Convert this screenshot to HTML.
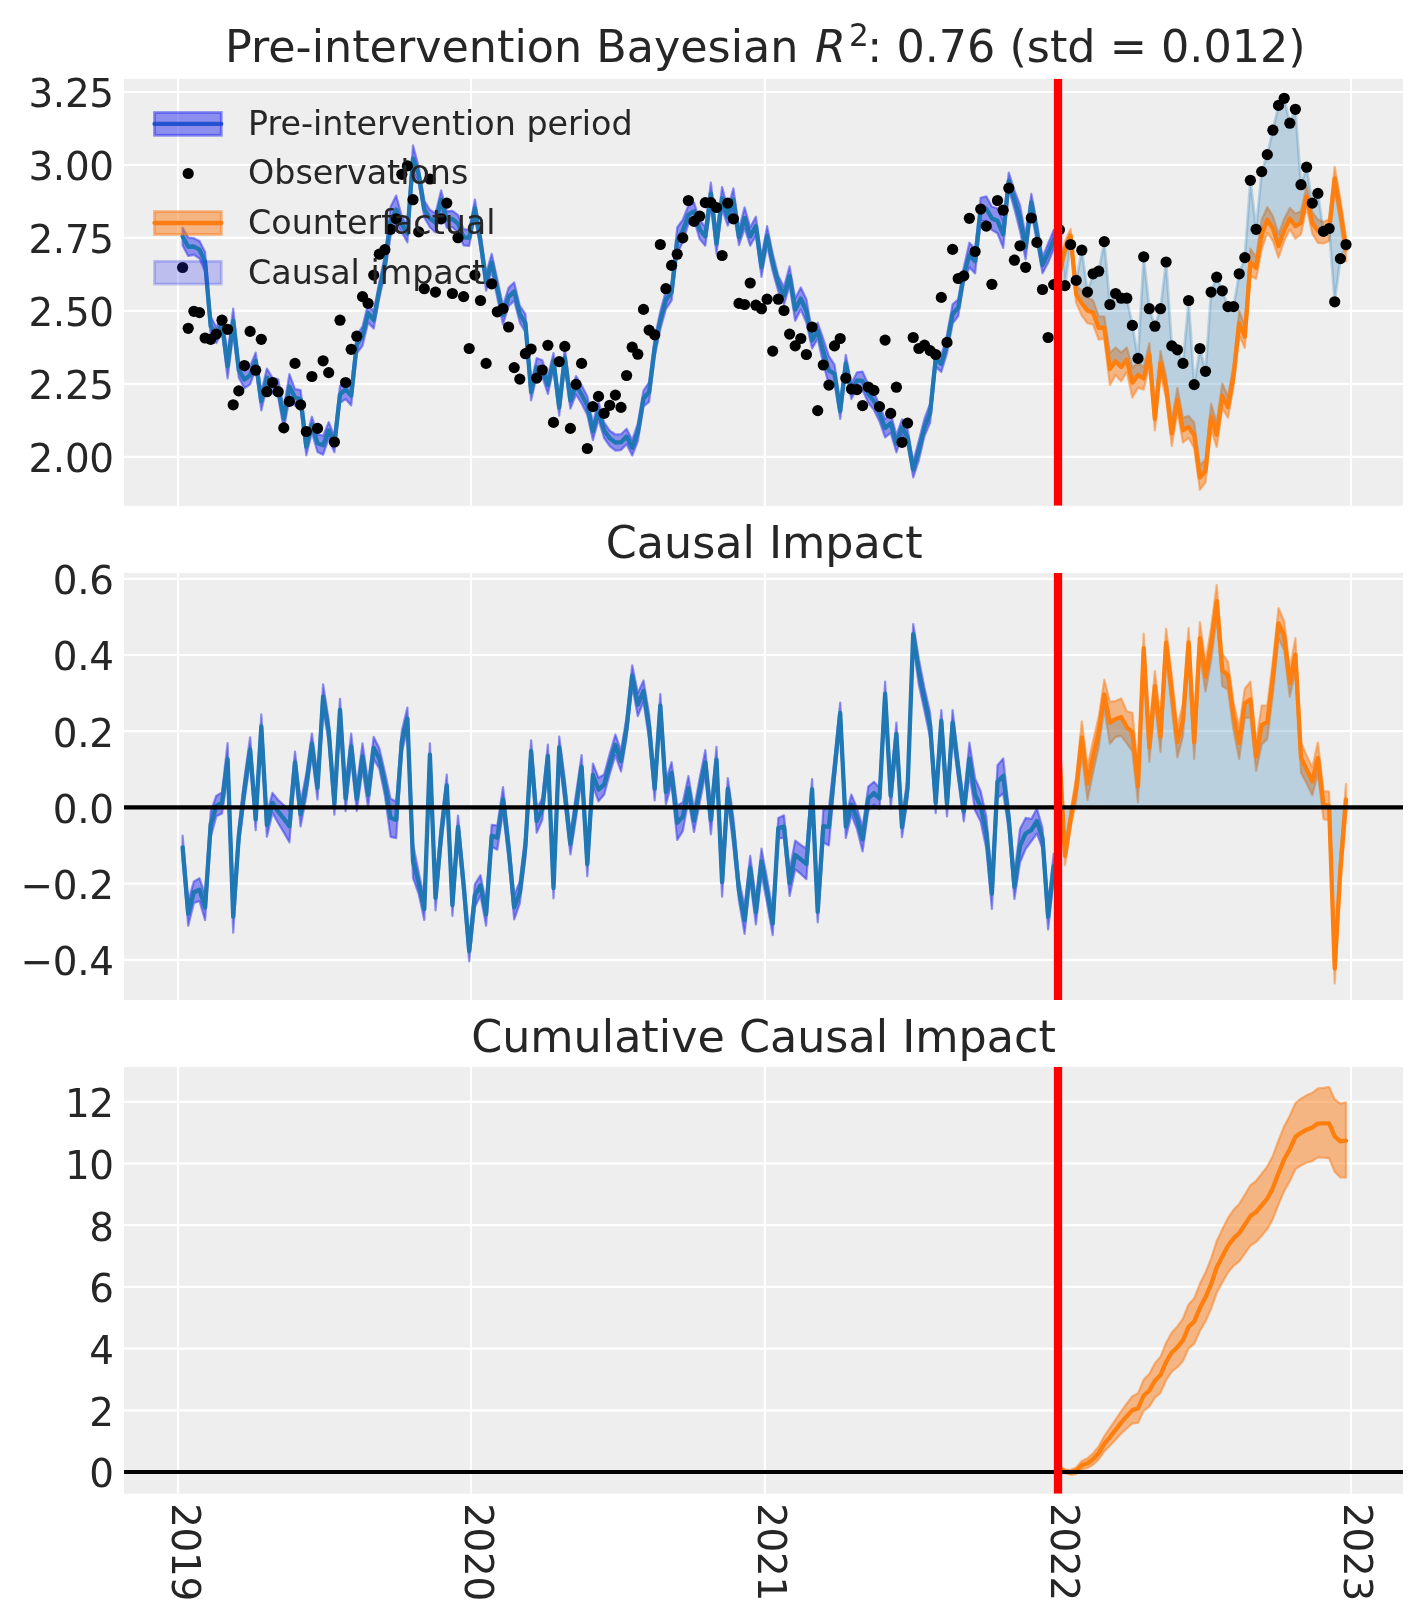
<!DOCTYPE html>
<html lang="en"><head><meta charset="utf-8"><title>Causal impact plot</title>
<style>html,body{margin:0;padding:0;background:#fff}svg{display:block;will-change:transform}</style></head>
<body>
<svg width="1423" height="1623" viewBox="0 0 1423 1623" font-family="'DejaVu Sans','Liberation Sans',sans-serif" fill="#262626">
<rect width="1423" height="1623" fill="#fff"/>
<defs>
<clipPath id="c1"><rect x="124.0" y="78.8" width="1279.0" height="427.0"/></clipPath>
<clipPath id="c2"><rect x="124.0" y="573.0" width="1279.0" height="426.9"/></clipPath>
<clipPath id="c3"><rect x="124.0" y="1067.0" width="1279.0" height="426.70000000000005"/></clipPath>
</defs>
<rect x="124.0" y="78.8" width="1279.0" height="427.0" fill="#eeeeee"/>
<g stroke="#fff" stroke-width="2.2" clip-path="url(#c1)">
<line x1="178.0" y1="78.8" x2="178.0" y2="505.8"/>
<line x1="471.0" y1="78.8" x2="471.0" y2="505.8"/>
<line x1="764.9" y1="78.8" x2="764.9" y2="505.8"/>
<line x1="1058.0" y1="78.8" x2="1058.0" y2="505.8"/>
<line x1="1351.0" y1="78.8" x2="1351.0" y2="505.8"/>
<line x1="124.0" y1="92.0" x2="1403.0" y2="92.0"/>
<line x1="124.0" y1="165.0" x2="1403.0" y2="165.0"/>
<line x1="124.0" y1="237.9" x2="1403.0" y2="237.9"/>
<line x1="124.0" y1="310.9" x2="1403.0" y2="310.9"/>
<line x1="124.0" y1="383.8" x2="1403.0" y2="383.8"/>
<line x1="124.0" y1="456.8" x2="1403.0" y2="456.8"/>
</g>
<g font-size="38.9" text-anchor="end" letter-spacing="-0.3">
<text x="113.8" y="107.4">3.25</text>
<text x="113.8" y="180.4">3.00</text>
<text x="113.8" y="253.3">2.75</text>
<text x="113.8" y="326.3">2.50</text>
<text x="113.8" y="399.2">2.25</text>
<text x="113.8" y="472.2">2.00</text>
</g>
<g clip-path="url(#c1)" stroke-linejoin="round" stroke-linecap="round">
<polygon points="182.6,227.6 188.2,237.5 193.9,238.2 199.5,241.0 205.1,252.1 210.7,316.6 216.3,327.3 222.0,315.8 227.6,353.8 233.2,308.5 238.8,362.4 244.4,371.0 250.1,366.2 255.7,352.6 261.3,392.1 266.9,368.6 272.5,377.8 278.2,379.4 283.8,408.0 289.4,374.2 295.0,389.1 300.6,390.0 306.3,438.1 311.9,416.7 317.5,434.3 323.1,435.8 328.7,422.1 334.4,436.0 340.0,385.9 345.6,379.6 351.2,385.7 356.8,335.0 362.5,326.4 368.1,303.7 373.7,311.6 379.3,282.3 384.9,255.3 390.6,206.7 396.2,195.6 401.8,216.2 407.4,225.2 413.0,145.4 418.7,166.7 424.3,200.8 429.9,209.9 435.5,213.3 441.1,190.4 446.8,211.3 452.4,210.8 458.0,215.0 463.6,229.2 469.2,229.8 474.9,199.5 480.5,233.4 486.1,273.2 491.7,253.9 497.3,279.3 503.0,305.8 508.6,287.7 514.2,282.4 519.8,305.7 525.4,314.0 531.1,383.6 536.7,358.1 542.3,360.3 547.9,376.6 553.5,353.0 559.2,399.4 564.8,347.7 570.4,392.4 576.0,376.1 581.6,385.3 587.3,396.3 592.9,422.7 598.5,401.8 604.1,422.5 609.7,430.6 615.4,434.5 621.0,434.2 626.6,428.7 632.2,439.9 637.8,423.6 643.5,390.5 649.1,382.2 654.7,338.5 660.3,311.4 665.9,290.7 671.6,284.1 677.2,227.5 682.8,219.7 688.4,205.4 694.0,202.5 699.7,220.0 705.3,227.1 710.9,182.5 716.5,234.0 722.1,187.0 727.8,208.8 733.4,188.4 739.0,229.0 744.6,207.4 750.2,227.2 755.9,216.7 761.5,257.0 767.1,226.1 772.7,253.6 778.3,275.8 784.0,286.9 789.6,266.4 795.2,298.6 800.8,287.5 806.4,299.3 812.1,332.2 817.7,322.8 823.3,338.9 828.9,356.1 834.5,364.7 840.2,403.1 845.8,354.9 851.4,383.6 857.0,372.3 862.6,371.6 868.3,384.5 873.9,392.5 879.5,405.0 885.1,419.1 890.7,413.4 896.4,435.1 902.0,419.4 907.6,429.7 913.2,461.8 918.9,440.4 924.5,418.4 930.1,403.8 935.7,350.6 941.3,355.6 947.0,334.8 952.6,304.3 958.2,299.4 963.8,267.2 969.4,242.7 975.1,249.0 980.7,197.7 986.3,196.4 991.9,206.7 997.5,208.2 1003.2,220.9 1008.8,172.5 1014.4,190.3 1020.0,205.2 1025.6,235.4 1031.3,193.8 1036.9,223.0 1042.5,257.3 1048.1,243.5 1053.7,230.1 1053.7,249.0 1048.1,262.8 1042.5,273.2 1036.9,242.2 1031.3,210.9 1025.6,259.3 1020.0,230.9 1014.4,208.9 1008.8,189.4 1003.2,247.8 997.5,233.3 991.9,230.1 986.3,220.9 980.7,221.1 975.1,273.5 969.4,267.2 963.8,282.7 958.2,316.2 952.6,323.7 947.0,353.2 941.3,372.0 935.7,366.6 930.1,422.9 924.5,436.1 918.9,460.1 913.2,477.4 907.6,445.1 902.0,434.9 896.4,452.3 890.7,433.0 885.1,437.3 879.5,421.5 873.9,409.9 868.3,402.7 862.6,390.2 857.0,388.5 851.4,399.0 845.8,372.1 840.2,418.9 834.5,382.9 828.9,384.7 823.3,364.0 817.7,338.8 812.1,348.4 806.4,322.7 800.8,309.6 795.2,320.8 789.6,285.9 784.0,304.4 778.3,291.4 772.7,271.3 767.1,245.2 761.5,276.8 755.9,235.5 750.2,245.7 744.6,228.4 739.0,245.1 733.4,210.6 727.8,225.7 722.1,209.2 716.5,253.5 710.9,204.7 705.3,245.7 699.7,239.1 694.0,219.9 688.4,224.0 682.8,241.9 677.2,253.8 671.6,300.5 665.9,309.2 660.3,329.1 654.7,356.9 649.1,401.8 643.5,406.5 637.8,441.4 632.2,455.6 626.6,444.3 621.0,450.1 615.4,450.6 609.7,446.1 604.1,438.0 598.5,419.7 592.9,440.1 587.3,414.9 581.6,403.5 576.0,394.5 570.4,408.7 564.8,367.4 559.2,415.7 553.5,368.5 547.9,393.9 542.3,377.0 536.7,376.0 531.1,400.3 525.4,332.3 519.8,322.6 514.2,300.8 508.6,306.1 503.0,324.4 497.3,297.8 491.7,270.8 486.1,290.6 480.5,249.0 474.9,217.1 469.2,245.9 463.6,245.4 458.0,232.3 452.4,227.2 446.8,227.8 441.1,208.4 435.5,232.5 429.9,227.2 424.3,217.4 418.7,183.1 413.0,171.7 407.4,242.3 401.8,232.4 396.2,223.6 390.6,235.9 384.9,273.5 379.3,297.9 373.7,328.6 368.1,322.8 362.5,345.8 356.8,353.3 351.2,405.4 345.6,399.1 340.0,402.9 334.4,452.2 328.7,438.7 323.1,454.7 317.5,452.0 311.9,432.6 306.3,455.3 300.6,408.4 295.0,405.6 289.4,398.7 283.8,429.0 278.2,397.2 272.5,393.1 266.9,386.6 261.3,410.4 255.7,369.1 250.1,384.4 244.4,388.3 238.8,377.7 233.2,333.1 227.6,378.3 222.0,331.9 216.3,343.1 210.7,335.9 205.1,271.5 199.5,258.5 193.9,254.8 188.2,256.0 182.6,245.4" fill="#2a2eec" fill-opacity="0.5" stroke="#2a2eec" stroke-opacity="0.5" stroke-width="2.2"/>
<polygon points="1059.4,267.1 1065.0,241.5 1070.6,229.0 1076.2,285.6 1081.8,290.7 1087.5,297.8 1093.1,300.3 1098.7,316.3 1104.3,316.5 1109.9,353.0 1115.6,347.5 1121.2,352.6 1126.8,347.5 1132.4,367.8 1138.0,362.6 1143.7,367.2 1149.3,343.2 1154.9,407.3 1160.5,351.1 1166.1,376.4 1171.8,421.0 1177.4,388.0 1183.0,417.9 1188.6,415.9 1194.2,422.5 1199.9,465.3 1205.5,459.7 1211.1,403.9 1216.7,422.7 1222.3,383.5 1228.0,396.5 1233.6,364.8 1239.2,311.0 1244.8,325.6 1250.4,248.7 1256.1,257.1 1261.7,219.8 1267.3,207.1 1272.9,216.0 1278.5,234.4 1284.2,218.9 1289.8,207.9 1295.4,213.5 1301.0,211.3 1306.6,185.7 1312.3,212.3 1317.9,219.4 1323.5,222.1 1329.1,219.0 1334.7,166.8 1340.4,199.6 1346.0,237.5 1346.0,261.3 1340.4,222.9 1334.7,189.9 1329.1,240.9 1323.5,243.5 1317.9,242.9 1312.3,233.7 1306.6,207.0 1301.0,234.3 1295.4,238.7 1289.8,229.2 1284.2,241.1 1278.5,257.7 1272.9,240.9 1267.3,232.8 1261.7,249.6 1256.1,278.8 1250.4,276.1 1244.8,348.0 1239.2,335.4 1233.6,386.0 1228.0,417.8 1222.3,408.4 1216.7,447.0 1211.1,429.3 1205.5,482.4 1199.9,489.8 1194.2,448.0 1188.6,438.0 1183.0,442.5 1177.4,411.5 1171.8,445.9 1166.1,397.9 1160.5,374.6 1154.9,430.4 1149.3,365.5 1143.7,389.6 1138.0,387.6 1132.4,397.5 1126.8,372.0 1121.2,381.2 1115.6,375.0 1109.9,385.1 1104.3,338.8 1098.7,339.6 1093.1,324.6 1087.5,323.3 1081.8,315.6 1076.2,303.1 1070.6,241.8 1065.0,255.5 1059.4,278.8" fill="#fa7c17" fill-opacity="0.5" stroke="#fa7c17" stroke-opacity="0.5" stroke-width="2.2"/>
<polygon points="1059.4,229.8 1065.0,285.6 1070.6,244.5 1076.2,280.4 1081.8,250.2 1087.5,292.1 1093.1,273.8 1098.7,271.2 1104.3,241.6 1109.9,304.5 1115.6,293.5 1121.2,298.2 1126.8,298.2 1132.4,325.4 1138.0,358.4 1143.7,256.8 1149.3,308.7 1154.9,326.2 1160.5,308.7 1166.1,262.0 1171.8,345.9 1177.4,349.8 1183.0,363.4 1188.6,300.5 1194.2,384.6 1199.9,348.5 1205.5,371.3 1211.1,292.1 1216.7,277.2 1222.3,290.8 1228.0,306.6 1233.6,306.6 1239.2,273.8 1244.8,257.6 1250.4,180.3 1256.1,229.3 1261.7,171.6 1267.3,154.6 1272.9,130.2 1278.5,105.4 1284.2,98.3 1289.8,123.2 1295.4,109.3 1301.0,184.7 1306.6,167.2 1312.3,203.1 1317.9,193.4 1323.5,231.4 1329.1,228.5 1334.7,301.8 1340.4,258.6 1346.0,244.5 1346.0,249.4 1340.4,211.3 1334.7,178.4 1329.1,229.9 1323.5,232.8 1317.9,231.1 1312.3,223.0 1306.6,196.4 1301.0,222.8 1295.4,226.1 1289.8,218.6 1284.2,230.0 1278.5,246.1 1272.9,228.4 1267.3,219.9 1261.7,234.7 1256.1,267.9 1250.4,262.4 1244.8,336.8 1239.2,323.2 1233.6,375.4 1228.0,407.2 1222.3,395.9 1216.7,434.8 1211.1,416.6 1205.5,471.0 1199.9,477.5 1194.2,435.3 1188.6,427.0 1183.0,430.2 1177.4,399.8 1171.8,433.5 1166.1,387.2 1160.5,362.8 1154.9,418.8 1149.3,354.4 1143.7,378.4 1138.0,375.1 1132.4,382.6 1126.8,359.7 1121.2,366.9 1115.6,361.3 1109.9,369.0 1104.3,327.7 1098.7,327.9 1093.1,312.5 1087.5,310.6 1081.8,303.2 1076.2,294.4 1070.6,235.4 1065.0,248.5 1059.4,272.9" fill="#1f77b4" fill-opacity="0.25" stroke="#1f77b4" stroke-opacity="0.25" stroke-width="2.8"/>
<polyline points="182.6,236.5 188.2,246.8 193.9,246.5 199.5,249.7 205.1,261.8 210.7,326.2 216.3,335.2 222.0,323.9 227.6,366.1 233.2,320.8 238.8,370.1 244.4,379.6 250.1,375.3 255.7,360.8 261.3,401.2 266.9,377.6 272.5,385.5 278.2,388.3 283.8,418.5 289.4,386.5 295.0,397.4 300.6,399.2 306.3,446.7 311.9,424.6 317.5,443.2 323.1,445.3 328.7,430.4 334.4,444.1 340.0,394.4 345.6,389.4 351.2,395.6 356.8,344.2 362.5,336.1 368.1,313.2 373.7,320.1 379.3,290.1 384.9,264.4 390.6,221.3 396.2,209.6 401.8,224.3 407.4,233.7 413.0,158.5 418.7,174.9 424.3,209.1 429.9,218.5 435.5,222.9 441.1,199.4 446.8,219.6 452.4,219.0 458.0,223.6 463.6,237.3 469.2,237.8 474.9,208.3 480.5,241.2 486.1,281.9 491.7,262.4 497.3,288.5 503.0,315.1 508.6,296.9 514.2,291.6 519.8,314.1 525.4,323.2 531.1,392.0 536.7,367.0 542.3,368.6 547.9,385.2 553.5,360.7 559.2,407.6 564.8,357.6 570.4,400.5 576.0,385.3 581.6,394.4 587.3,405.6 592.9,431.4 598.5,410.7 604.1,430.2 609.7,438.3 615.4,442.5 621.0,442.2 626.6,436.5 632.2,447.8 637.8,432.5 643.5,398.5 649.1,392.0 654.7,347.7 660.3,320.2 665.9,299.9 671.6,292.3 677.2,240.6 682.8,230.8 688.4,214.7 694.0,211.2 699.7,229.5 705.3,236.4 710.9,193.6 716.5,243.7 722.1,198.1 727.8,217.3 733.4,199.5 739.0,237.1 744.6,217.9 750.2,236.4 755.9,226.1 761.5,266.9 767.1,235.6 772.7,262.4 778.3,283.6 784.0,295.6 789.6,276.1 795.2,309.7 800.8,298.6 806.4,311.0 812.1,340.3 817.7,330.8 823.3,351.4 828.9,370.4 834.5,373.8 840.2,411.0 845.8,363.5 851.4,391.3 857.0,380.4 862.6,380.9 868.3,393.6 873.9,401.2 879.5,413.3 885.1,428.2 890.7,423.2 896.4,443.7 902.0,427.2 907.6,437.4 913.2,469.6 918.9,450.2 924.5,427.3 930.1,413.3 935.7,358.6 941.3,363.8 947.0,344.0 952.6,314.0 958.2,307.8 963.8,275.0 969.4,255.0 975.1,261.2 980.7,209.4 986.3,208.7 991.9,218.4 997.5,220.8 1003.2,234.3 1008.8,180.9 1014.4,199.6 1020.0,218.1 1025.6,247.4 1031.3,202.3 1036.9,232.6 1042.5,265.2 1048.1,253.2 1053.7,239.6" fill="none" stroke="#1f77b4" stroke-width="4.3"/>
<g fill="#000" stroke="none">
<circle cx="182.6" cy="267.5" r="5.6"/>
<circle cx="188.2" cy="328.3" r="5.6"/>
<circle cx="193.9" cy="311.3" r="5.6"/>
<circle cx="199.5" cy="312.6" r="5.6"/>
<circle cx="205.1" cy="338.0" r="5.6"/>
<circle cx="210.7" cy="339.3" r="5.6"/>
<circle cx="216.3" cy="334.1" r="5.6"/>
<circle cx="222.0" cy="320.2" r="5.6"/>
<circle cx="227.6" cy="329.3" r="5.6"/>
<circle cx="233.2" cy="404.8" r="5.6"/>
<circle cx="238.8" cy="390.9" r="5.6"/>
<circle cx="244.4" cy="365.5" r="5.6"/>
<circle cx="250.1" cy="331.4" r="5.6"/>
<circle cx="255.7" cy="370.2" r="5.6"/>
<circle cx="261.3" cy="339.3" r="5.6"/>
<circle cx="266.9" cy="391.7" r="5.6"/>
<circle cx="272.5" cy="382.5" r="5.6"/>
<circle cx="278.2" cy="391.7" r="5.6"/>
<circle cx="283.8" cy="427.9" r="5.6"/>
<circle cx="289.4" cy="401.4" r="5.6"/>
<circle cx="295.0" cy="363.4" r="5.6"/>
<circle cx="300.6" cy="404.8" r="5.6"/>
<circle cx="306.3" cy="431.5" r="5.6"/>
<circle cx="311.9" cy="376.5" r="5.6"/>
<circle cx="317.5" cy="428.4" r="5.6"/>
<circle cx="323.1" cy="360.8" r="5.6"/>
<circle cx="328.7" cy="372.6" r="5.6"/>
<circle cx="334.4" cy="442.0" r="5.6"/>
<circle cx="340.0" cy="320.2" r="5.6"/>
<circle cx="345.6" cy="382.5" r="5.6"/>
<circle cx="351.2" cy="349.3" r="5.6"/>
<circle cx="356.8" cy="336.2" r="5.6"/>
<circle cx="362.5" cy="296.6" r="5.6"/>
<circle cx="368.1" cy="303.4" r="5.6"/>
<circle cx="373.7" cy="275.1" r="5.6"/>
<circle cx="379.3" cy="254.2" r="5.6"/>
<circle cx="384.9" cy="249.7" r="5.6"/>
<circle cx="390.6" cy="229.3" r="5.6"/>
<circle cx="396.2" cy="218.8" r="5.6"/>
<circle cx="401.8" cy="174.3" r="5.6"/>
<circle cx="407.4" cy="165.9" r="5.6"/>
<circle cx="413.0" cy="199.7" r="5.6"/>
<circle cx="418.7" cy="231.9" r="5.6"/>
<circle cx="424.3" cy="288.7" r="5.6"/>
<circle cx="429.9" cy="179.0" r="5.6"/>
<circle cx="435.5" cy="292.1" r="5.6"/>
<circle cx="441.1" cy="218.8" r="5.6"/>
<circle cx="446.8" cy="203.1" r="5.6"/>
<circle cx="452.4" cy="293.5" r="5.6"/>
<circle cx="458.0" cy="237.7" r="5.6"/>
<circle cx="463.6" cy="296.6" r="5.6"/>
<circle cx="469.2" cy="348.5" r="5.6"/>
<circle cx="474.9" cy="275.1" r="5.6"/>
<circle cx="480.5" cy="300.5" r="5.6"/>
<circle cx="486.1" cy="363.4" r="5.6"/>
<circle cx="491.7" cy="283.8" r="5.6"/>
<circle cx="497.3" cy="311.8" r="5.6"/>
<circle cx="503.0" cy="308.7" r="5.6"/>
<circle cx="508.6" cy="327.0" r="5.6"/>
<circle cx="514.2" cy="367.6" r="5.6"/>
<circle cx="519.8" cy="379.1" r="5.6"/>
<circle cx="525.4" cy="353.7" r="5.6"/>
<circle cx="531.1" cy="349.0" r="5.6"/>
<circle cx="536.7" cy="378.1" r="5.6"/>
<circle cx="542.3" cy="370.0" r="5.6"/>
<circle cx="547.9" cy="345.3" r="5.6"/>
<circle cx="553.5" cy="422.4" r="5.6"/>
<circle cx="559.2" cy="361.6" r="5.6"/>
<circle cx="564.8" cy="346.4" r="5.6"/>
<circle cx="570.4" cy="428.4" r="5.6"/>
<circle cx="576.0" cy="384.4" r="5.6"/>
<circle cx="581.6" cy="363.4" r="5.6"/>
<circle cx="587.3" cy="448.5" r="5.6"/>
<circle cx="592.9" cy="406.6" r="5.6"/>
<circle cx="598.5" cy="396.4" r="5.6"/>
<circle cx="604.1" cy="413.4" r="5.6"/>
<circle cx="609.7" cy="405.3" r="5.6"/>
<circle cx="615.4" cy="395.1" r="5.6"/>
<circle cx="621.0" cy="407.4" r="5.6"/>
<circle cx="626.6" cy="375.5" r="5.6"/>
<circle cx="632.2" cy="347.2" r="5.6"/>
<circle cx="637.8" cy="354.2" r="5.6"/>
<circle cx="643.5" cy="309.4" r="5.6"/>
<circle cx="649.1" cy="330.1" r="5.6"/>
<circle cx="654.7" cy="334.9" r="5.6"/>
<circle cx="660.3" cy="244.5" r="5.6"/>
<circle cx="665.9" cy="288.7" r="5.6"/>
<circle cx="671.6" cy="265.4" r="5.6"/>
<circle cx="677.2" cy="254.2" r="5.6"/>
<circle cx="682.8" cy="237.9" r="5.6"/>
<circle cx="688.4" cy="200.5" r="5.6"/>
<circle cx="694.0" cy="221.4" r="5.6"/>
<circle cx="699.7" cy="216.2" r="5.6"/>
<circle cx="705.3" cy="202.6" r="5.6"/>
<circle cx="710.9" cy="202.6" r="5.6"/>
<circle cx="716.5" cy="207.5" r="5.6"/>
<circle cx="722.1" cy="255.5" r="5.6"/>
<circle cx="727.8" cy="203.1" r="5.6"/>
<circle cx="733.4" cy="218.8" r="5.6"/>
<circle cx="739.0" cy="303.4" r="5.6"/>
<circle cx="744.6" cy="304.5" r="5.6"/>
<circle cx="750.2" cy="283.0" r="5.6"/>
<circle cx="755.9" cy="305.2" r="5.6"/>
<circle cx="761.5" cy="308.7" r="5.6"/>
<circle cx="767.1" cy="299.2" r="5.6"/>
<circle cx="772.7" cy="351.1" r="5.6"/>
<circle cx="778.3" cy="299.2" r="5.6"/>
<circle cx="784.0" cy="310.5" r="5.6"/>
<circle cx="789.6" cy="334.1" r="5.6"/>
<circle cx="795.2" cy="345.9" r="5.6"/>
<circle cx="800.8" cy="338.5" r="5.6"/>
<circle cx="806.4" cy="354.5" r="5.6"/>
<circle cx="812.1" cy="327.0" r="5.6"/>
<circle cx="817.7" cy="410.6" r="5.6"/>
<circle cx="823.3" cy="365.0" r="5.6"/>
<circle cx="828.9" cy="385.1" r="5.6"/>
<circle cx="834.5" cy="345.9" r="5.6"/>
<circle cx="840.2" cy="338.5" r="5.6"/>
<circle cx="845.8" cy="378.1" r="5.6"/>
<circle cx="851.4" cy="389.1" r="5.6"/>
<circle cx="857.0" cy="389.6" r="5.6"/>
<circle cx="862.6" cy="405.6" r="5.6"/>
<circle cx="868.3" cy="387.0" r="5.6"/>
<circle cx="873.9" cy="390.4" r="5.6"/>
<circle cx="879.5" cy="406.6" r="5.6"/>
<circle cx="885.1" cy="340.1" r="5.6"/>
<circle cx="890.7" cy="413.4" r="5.6"/>
<circle cx="896.4" cy="387.2" r="5.6"/>
<circle cx="902.0" cy="442.3" r="5.6"/>
<circle cx="907.6" cy="423.1" r="5.6"/>
<circle cx="913.2" cy="337.5" r="5.6"/>
<circle cx="918.9" cy="348.5" r="5.6"/>
<circle cx="924.5" cy="345.1" r="5.6"/>
<circle cx="930.1" cy="350.6" r="5.6"/>
<circle cx="935.7" cy="354.5" r="5.6"/>
<circle cx="941.3" cy="297.4" r="5.6"/>
<circle cx="947.0" cy="342.4" r="5.6"/>
<circle cx="952.6" cy="249.4" r="5.6"/>
<circle cx="958.2" cy="278.5" r="5.6"/>
<circle cx="963.8" cy="275.9" r="5.6"/>
<circle cx="969.4" cy="218.3" r="5.6"/>
<circle cx="975.1" cy="251.5" r="5.6"/>
<circle cx="980.7" cy="209.1" r="5.6"/>
<circle cx="986.3" cy="226.1" r="5.6"/>
<circle cx="991.9" cy="284.3" r="5.6"/>
<circle cx="997.5" cy="200.5" r="5.6"/>
<circle cx="1003.2" cy="210.2" r="5.6"/>
<circle cx="1008.8" cy="188.1" r="5.6"/>
<circle cx="1014.4" cy="260.2" r="5.6"/>
<circle cx="1020.0" cy="245.8" r="5.6"/>
<circle cx="1025.6" cy="267.3" r="5.6"/>
<circle cx="1031.3" cy="218.0" r="5.6"/>
<circle cx="1036.9" cy="242.4" r="5.6"/>
<circle cx="1042.5" cy="289.5" r="5.6"/>
<circle cx="1048.1" cy="337.5" r="5.6"/>
<circle cx="1053.7" cy="284.6" r="5.6"/>
</g>
<polyline points="1059.4,272.9 1065.0,248.5 1070.6,235.4 1076.2,294.4 1081.8,303.2 1087.5,310.6 1093.1,312.5 1098.7,327.9 1104.3,327.7 1109.9,369.0 1115.6,361.3 1121.2,366.9 1126.8,359.7 1132.4,382.6 1138.0,375.1 1143.7,378.4 1149.3,354.4 1154.9,418.8 1160.5,362.8 1166.1,387.2 1171.8,433.5 1177.4,399.8 1183.0,430.2 1188.6,427.0 1194.2,435.3 1199.9,477.5 1205.5,471.0 1211.1,416.6 1216.7,434.8 1222.3,395.9 1228.0,407.2 1233.6,375.4 1239.2,323.2 1244.8,336.8 1250.4,262.4 1256.1,267.9 1261.7,234.7 1267.3,219.9 1272.9,228.4 1278.5,246.1 1284.2,230.0 1289.8,218.6 1295.4,226.1 1301.0,222.8 1306.6,196.4 1312.3,223.0 1317.9,231.1 1323.5,232.8 1329.1,229.9 1334.7,178.4 1340.4,211.3 1346.0,249.4" fill="none" stroke="#ff7f0e" stroke-width="4.3"/>
<g fill="#000" stroke="none">
<circle cx="1059.4" cy="229.8" r="5.6"/>
<circle cx="1065.0" cy="285.6" r="5.6"/>
<circle cx="1070.6" cy="244.5" r="5.6"/>
<circle cx="1076.2" cy="280.4" r="5.6"/>
<circle cx="1081.8" cy="250.2" r="5.6"/>
<circle cx="1087.5" cy="292.1" r="5.6"/>
<circle cx="1093.1" cy="273.8" r="5.6"/>
<circle cx="1098.7" cy="271.2" r="5.6"/>
<circle cx="1104.3" cy="241.6" r="5.6"/>
<circle cx="1109.9" cy="304.5" r="5.6"/>
<circle cx="1115.6" cy="293.5" r="5.6"/>
<circle cx="1121.2" cy="298.2" r="5.6"/>
<circle cx="1126.8" cy="298.2" r="5.6"/>
<circle cx="1132.4" cy="325.4" r="5.6"/>
<circle cx="1138.0" cy="358.4" r="5.6"/>
<circle cx="1143.7" cy="256.8" r="5.6"/>
<circle cx="1149.3" cy="308.7" r="5.6"/>
<circle cx="1154.9" cy="326.2" r="5.6"/>
<circle cx="1160.5" cy="308.7" r="5.6"/>
<circle cx="1166.1" cy="262.0" r="5.6"/>
<circle cx="1171.8" cy="345.9" r="5.6"/>
<circle cx="1177.4" cy="349.8" r="5.6"/>
<circle cx="1183.0" cy="363.4" r="5.6"/>
<circle cx="1188.6" cy="300.5" r="5.6"/>
<circle cx="1194.2" cy="384.6" r="5.6"/>
<circle cx="1199.9" cy="348.5" r="5.6"/>
<circle cx="1205.5" cy="371.3" r="5.6"/>
<circle cx="1211.1" cy="292.1" r="5.6"/>
<circle cx="1216.7" cy="277.2" r="5.6"/>
<circle cx="1222.3" cy="290.8" r="5.6"/>
<circle cx="1228.0" cy="306.6" r="5.6"/>
<circle cx="1233.6" cy="306.6" r="5.6"/>
<circle cx="1239.2" cy="273.8" r="5.6"/>
<circle cx="1244.8" cy="257.6" r="5.6"/>
<circle cx="1250.4" cy="180.3" r="5.6"/>
<circle cx="1256.1" cy="229.3" r="5.6"/>
<circle cx="1261.7" cy="171.6" r="5.6"/>
<circle cx="1267.3" cy="154.6" r="5.6"/>
<circle cx="1272.9" cy="130.2" r="5.6"/>
<circle cx="1278.5" cy="105.4" r="5.6"/>
<circle cx="1284.2" cy="98.3" r="5.6"/>
<circle cx="1289.8" cy="123.2" r="5.6"/>
<circle cx="1295.4" cy="109.3" r="5.6"/>
<circle cx="1301.0" cy="184.7" r="5.6"/>
<circle cx="1306.6" cy="167.2" r="5.6"/>
<circle cx="1312.3" cy="203.1" r="5.6"/>
<circle cx="1317.9" cy="193.4" r="5.6"/>
<circle cx="1323.5" cy="231.4" r="5.6"/>
<circle cx="1329.1" cy="228.5" r="5.6"/>
<circle cx="1334.7" cy="301.8" r="5.6"/>
<circle cx="1340.4" cy="258.6" r="5.6"/>
<circle cx="1346.0" cy="244.5" r="5.6"/>
</g>
<line x1="1058.0" y1="78.8" x2="1058.0" y2="505.8" stroke="#ff0000" stroke-width="8.3" stroke-linecap="butt"/>
</g>
<g id="legend">
<line x1="154.5" y1="123.9" x2="221.3" y2="123.9" stroke="#1f77b4" stroke-width="4.3" stroke-linecap="round"/>
<rect x="154.5" y="112.5" width="66.8" height="22.8" fill="#2a2eec" fill-opacity="0.5" stroke="#2a2eec" stroke-opacity="0.5" stroke-width="2.78"/>
<circle cx="188.2" cy="173.5" r="5.6" fill="#000"/>
<line x1="154.5" y1="223.0" x2="221.3" y2="223.0" stroke="#ff7f0e" stroke-width="4.3" stroke-linecap="round"/>
<rect x="154.5" y="211.6" width="66.8" height="22.8" fill="#fa7c17" fill-opacity="0.5" stroke="#fa7c17" stroke-opacity="0.5" stroke-width="2.78"/>
<rect x="154.5" y="261.3" width="66.8" height="22.8" fill="#2a2eec" fill-opacity="0.25" stroke="#2a2eec" stroke-opacity="0.25" stroke-width="2.78"/>
<g font-size="33.33">
<text x="248.0" y="134.7">Pre-intervention period</text>
<text x="248.0" y="184.3">Observations</text>
<text x="248.0" y="233.8">Counterfactual</text>
<text x="248.0" y="283.5">Causal impact</text>
</g></g>
<rect x="124.0" y="573.0" width="1279.0" height="426.9" fill="#eeeeee"/>
<g stroke="#fff" stroke-width="2.2" clip-path="url(#c2)">
<line x1="178.0" y1="573.0" x2="178.0" y2="999.9"/>
<line x1="471.0" y1="573.0" x2="471.0" y2="999.9"/>
<line x1="764.9" y1="573.0" x2="764.9" y2="999.9"/>
<line x1="1058.0" y1="573.0" x2="1058.0" y2="999.9"/>
<line x1="1351.0" y1="573.0" x2="1351.0" y2="999.9"/>
<line x1="124.0" y1="578.8" x2="1403.0" y2="578.8"/>
<line x1="124.0" y1="655.0" x2="1403.0" y2="655.0"/>
<line x1="124.0" y1="731.2" x2="1403.0" y2="731.2"/>
<line x1="124.0" y1="807.4" x2="1403.0" y2="807.4"/>
<line x1="124.0" y1="883.6" x2="1403.0" y2="883.6"/>
<line x1="124.0" y1="959.8" x2="1403.0" y2="959.8"/>
</g>
<g font-size="38.9" text-anchor="end" letter-spacing="-0.3">
<text x="113.8" y="594.2">0.6</text>
<text x="113.8" y="670.4">0.4</text>
<text x="113.8" y="746.6">0.2</text>
<text x="113.8" y="822.8">0.0</text>
<text x="113.8" y="899.0">−0.2</text>
<text x="113.8" y="975.2">−0.4</text>
</g>
<g clip-path="url(#c2)" stroke-linejoin="round" stroke-linecap="round">
<polygon points="182.6,835.7 188.2,901.6 193.9,881.4 199.5,878.2 205.1,894.9 210.7,811.8 216.3,795.7 222.0,792.5 227.6,743.2 233.2,900.6 238.8,826.1 244.4,778.4 250.1,737.4 255.7,808.7 261.3,714.4 266.9,813.4 272.5,792.9 278.2,800.0 283.8,805.0 289.4,810.3 295.0,751.6 300.6,802.3 306.3,773.8 311.9,733.5 317.5,776.4 323.1,684.3 328.7,720.2 334.4,793.5 340.0,698.8 345.6,785.6 351.2,733.5 356.8,786.9 362.5,743.4 368.1,782.6 373.7,736.9 379.3,748.2 384.9,772.1 390.6,798.8 396.2,801.6 401.8,730.7 407.4,707.5 413.0,843.9 418.7,872.5 424.3,898.3 429.9,743.4 435.5,885.3 441.1,823.4 446.8,774.7 452.4,894.3 458.0,815.7 463.6,874.2 469.2,940.4 474.9,884.0 480.5,875.2 486.1,902.9 491.7,824.8 497.3,825.6 503.0,787.1 508.6,835.9 514.2,895.4 519.8,881.3 525.4,834.4 531.1,740.3 536.7,809.5 542.3,798.0 547.9,744.6 553.5,878.1 559.2,736.6 564.8,779.4 570.4,833.3 576.0,794.1 581.6,755.0 587.3,852.1 592.9,763.5 598.5,777.8 604.1,774.5 609.7,753.9 615.4,734.5 621.0,750.8 626.6,717.4 632.2,665.3 637.8,693.0 643.5,680.5 649.1,714.3 654.7,776.5 660.3,694.0 665.9,780.2 671.6,762.1 677.2,805.6 682.8,802.2 688.4,776.2 694.0,809.2 699.7,778.0 705.3,750.2 710.9,805.3 716.5,746.9 722.1,867.7 727.8,778.0 733.4,818.0 739.0,880.1 744.6,906.5 750.2,855.8 755.9,899.8 761.5,848.6 767.1,878.6 772.7,912.0 778.3,817.9 784.0,815.3 789.6,870.5 795.2,840.5 800.8,844.9 806.4,848.7 812.1,779.0 817.7,901.4 823.3,809.7 828.9,808.2 834.5,758.3 840.2,702.6 845.8,815.6 851.4,794.6 857.0,808.1 862.6,827.1 868.3,786.6 873.9,781.8 879.5,787.8 885.1,681.7 890.7,783.0 896.4,722.7 902.0,817.0 907.6,778.2 913.2,624.0 918.9,659.4 924.5,687.9 930.1,712.8 935.7,792.3 941.3,710.1 947.0,792.4 952.6,710.1 958.2,757.7 963.8,801.2 969.4,742.6 975.1,778.5 980.7,791.3 986.3,816.5 991.9,878.4 997.5,765.3 1003.2,758.4 1008.8,808.3 1014.4,874.8 1020.0,829.0 1025.6,817.9 1031.3,818.9 1036.9,808.4 1042.5,828.0 1048.1,904.2 1053.7,853.9 1053.7,878.6 1048.1,929.3 1042.5,848.7 1036.9,833.6 1031.3,841.3 1025.6,849.1 1020.0,862.5 1014.4,899.0 1008.8,830.3 1003.2,793.4 997.5,798.1 991.9,908.9 986.3,848.5 980.7,821.8 975.1,810.5 969.4,774.6 963.8,821.4 958.2,779.6 952.6,735.3 947.0,816.4 941.3,731.5 935.7,813.2 930.1,737.7 924.5,711.0 918.9,685.1 913.2,644.3 907.6,798.4 902.0,837.2 896.4,745.1 890.7,808.6 885.1,705.5 879.5,809.2 873.9,804.5 868.3,810.4 862.6,851.4 857.0,829.2 851.4,814.7 845.8,837.9 840.2,723.3 834.5,782.0 828.9,845.5 823.3,842.4 817.7,922.3 812.1,800.1 806.4,879.2 800.8,873.9 795.2,869.4 789.6,895.9 784.0,838.1 778.3,838.2 772.7,935.1 767.1,903.6 761.5,874.4 755.9,924.4 750.2,880.0 744.6,933.9 739.0,901.1 733.4,846.9 727.8,800.0 722.1,896.6 716.5,772.2 710.9,834.3 705.3,774.6 699.7,802.9 694.0,832.0 688.4,800.4 682.8,831.1 677.2,839.9 671.6,783.6 665.9,804.3 660.3,717.2 654.7,800.5 649.1,739.9 643.5,701.5 637.8,716.2 632.2,685.9 626.6,737.9 621.0,771.5 615.4,755.5 609.7,774.1 604.1,794.8 598.5,801.3 592.9,786.2 587.3,876.3 581.6,778.8 576.0,818.2 570.4,854.5 564.8,805.1 559.2,757.9 553.5,898.3 547.9,767.1 542.3,819.8 536.7,832.8 531.1,762.2 525.4,858.3 519.8,903.4 514.2,919.4 508.6,860.0 503.0,811.5 497.3,849.7 491.7,846.8 486.1,925.7 480.5,895.6 474.9,907.0 469.2,961.5 463.6,895.2 458.0,838.3 452.4,915.8 446.8,796.3 441.1,846.8 435.5,910.3 429.9,766.0 424.3,919.9 418.7,893.9 413.0,878.2 407.4,729.8 401.8,751.9 396.2,838.2 390.6,836.9 384.9,795.9 379.3,768.6 373.7,759.0 368.1,807.6 362.5,768.7 356.8,810.9 351.2,759.3 345.6,811.1 340.0,720.9 334.4,814.6 328.7,741.9 323.1,708.9 317.5,799.5 311.9,754.3 306.3,796.3 300.6,826.4 295.0,773.1 289.4,842.3 283.8,832.4 278.2,823.2 272.5,812.8 266.9,836.8 261.3,738.4 255.7,830.2 250.1,761.2 244.4,801.0 238.8,846.1 233.2,932.6 227.6,775.2 222.0,813.6 216.3,816.3 210.7,837.1 205.1,920.2 199.5,901.1 193.9,903.0 188.2,925.7 182.6,858.9" fill="#2a2eec" fill-opacity="0.5" stroke="#2a2eec" stroke-opacity="0.5" stroke-width="2.2"/>
<polygon points="1059.4,743.5 1065.0,846.7 1070.6,810.8 1076.2,777.3 1081.8,721.3 1087.5,766.7 1093.1,740.8 1098.7,716.8 1104.3,679.8 1109.9,701.8 1115.6,701.1 1121.2,698.5 1126.8,711.3 1132.4,712.7 1138.0,769.8 1143.7,633.5 1149.3,732.9 1154.9,671.0 1160.5,721.3 1166.1,628.6 1171.8,675.7 1177.4,726.7 1183.0,703.9 1188.6,628.0 1194.2,725.6 1199.9,622.1 1205.5,662.1 1211.1,627.7 1216.7,585.2 1222.3,653.8 1228.0,661.8 1233.6,702.8 1239.2,727.1 1244.8,688.7 1250.4,681.6 1256.1,742.4 1261.7,705.6 1267.3,705.5 1272.9,661.0 1278.5,608.0 1284.2,621.2 1289.8,669.0 1295.4,638.2 1301.0,742.6 1306.6,755.4 1312.3,767.4 1317.9,742.5 1323.5,791.2 1329.1,791.5 1334.7,953.5 1340.4,853.8 1346.0,784.1 1346.0,815.1 1340.4,884.3 1334.7,983.5 1329.1,820.1 1323.5,819.1 1317.9,773.2 1312.3,795.3 1306.6,783.3 1301.0,772.8 1295.4,671.0 1289.8,696.8 1284.2,650.1 1278.5,638.5 1272.9,693.4 1267.3,739.0 1261.7,744.4 1256.1,770.8 1250.4,717.4 1244.8,717.9 1239.2,759.1 1233.6,730.5 1228.0,689.5 1222.3,686.4 1216.7,616.9 1211.1,660.9 1205.5,691.6 1199.9,654.1 1194.2,758.9 1188.6,656.8 1183.0,736.0 1177.4,757.4 1171.8,708.2 1166.1,656.6 1160.5,752.0 1154.9,701.1 1149.3,762.0 1143.7,662.8 1138.0,802.4 1132.4,751.5 1126.8,743.3 1121.2,735.8 1115.6,736.9 1109.9,743.7 1104.3,709.0 1098.7,747.2 1093.1,772.5 1087.5,800.0 1081.8,753.7 1076.2,800.1 1070.6,827.6 1065.0,865.0 1059.4,758.7" fill="#fa7c17" fill-opacity="0.5" stroke="#fa7c17" stroke-opacity="0.5" stroke-width="2.2"/>
<polygon points="1059.4,751.1 1065.0,855.9 1070.6,819.2 1076.2,788.7 1081.8,737.5 1087.5,783.3 1093.1,756.6 1098.7,732.0 1104.3,694.4 1109.9,722.7 1115.6,719.0 1121.2,717.1 1126.8,727.3 1132.4,732.1 1138.0,786.1 1143.7,648.2 1149.3,747.5 1154.9,686.1 1160.5,736.7 1166.1,642.6 1171.8,692.0 1177.4,742.0 1183.0,719.9 1188.6,642.4 1194.2,742.3 1199.9,638.1 1205.5,676.8 1211.1,644.3 1216.7,601.1 1222.3,670.1 1228.0,675.6 1233.6,716.6 1239.2,743.1 1244.8,703.3 1250.4,699.5 1256.1,756.6 1261.7,725.0 1267.3,722.2 1272.9,677.2 1278.5,623.3 1284.2,635.7 1289.8,682.9 1295.4,654.6 1301.0,757.7 1306.6,769.4 1312.3,781.3 1317.9,757.9 1323.5,805.2 1329.1,805.8 1334.7,968.5 1340.4,869.1 1346.0,799.6 1346.0,807.4 1340.4,807.4 1334.7,807.4 1329.1,807.4 1323.5,807.4 1317.9,807.4 1312.3,807.4 1306.6,807.4 1301.0,807.4 1295.4,807.4 1289.8,807.4 1284.2,807.4 1278.5,807.4 1272.9,807.4 1267.3,807.4 1261.7,807.4 1256.1,807.4 1250.4,807.4 1244.8,807.4 1239.2,807.4 1233.6,807.4 1228.0,807.4 1222.3,807.4 1216.7,807.4 1211.1,807.4 1205.5,807.4 1199.9,807.4 1194.2,807.4 1188.6,807.4 1183.0,807.4 1177.4,807.4 1171.8,807.4 1166.1,807.4 1160.5,807.4 1154.9,807.4 1149.3,807.4 1143.7,807.4 1138.0,807.4 1132.4,807.4 1126.8,807.4 1121.2,807.4 1115.6,807.4 1109.9,807.4 1104.3,807.4 1098.7,807.4 1093.1,807.4 1087.5,807.4 1081.8,807.4 1076.2,807.4 1070.6,807.4 1065.0,807.4 1059.4,807.4" fill="#1f77b4" fill-opacity="0.25" stroke="#1f77b4" stroke-opacity="0.25" stroke-width="2.8"/>
<polyline points="182.6,847.3 188.2,913.6 193.9,892.2 199.5,889.7 205.1,907.5 210.7,824.4 216.3,806.0 222.0,803.0 227.6,759.2 233.2,916.6 238.8,836.1 244.4,789.7 250.1,749.3 255.7,819.4 261.3,726.4 266.9,825.1 272.5,802.9 278.2,811.6 283.8,818.7 289.4,826.3 295.0,762.3 300.6,814.3 306.3,785.1 311.9,743.9 317.5,787.9 323.1,696.6 328.7,731.0 334.4,804.1 340.0,709.8 345.6,798.4 351.2,746.4 356.8,798.9 362.5,756.1 368.1,795.1 373.7,747.9 379.3,758.4 384.9,784.0 390.6,817.8 396.2,819.9 401.8,741.3 407.4,718.6 413.0,861.1 418.7,883.2 424.3,909.1 429.9,754.7 435.5,897.8 441.1,835.1 446.8,785.5 452.4,905.1 458.0,827.0 463.6,884.7 469.2,951.0 474.9,895.5 480.5,885.4 486.1,914.3 491.7,835.8 497.3,837.6 503.0,799.3 508.6,848.0 514.2,907.4 519.8,892.4 525.4,846.3 531.1,751.2 536.7,821.2 542.3,808.9 547.9,755.8 553.5,888.2 559.2,747.3 564.8,792.2 570.4,843.9 576.0,806.1 581.6,766.9 587.3,864.2 592.9,774.9 598.5,789.5 604.1,784.7 609.7,764.0 615.4,745.0 621.0,761.1 626.6,727.6 632.2,675.6 637.8,704.6 643.5,691.0 649.1,727.1 654.7,788.5 660.3,705.6 665.9,792.2 671.6,772.9 677.2,822.8 682.8,816.6 688.4,788.3 694.0,820.6 699.7,790.4 705.3,762.4 710.9,819.8 716.5,759.6 722.1,882.1 727.8,789.0 733.4,832.4 739.0,890.6 744.6,920.2 750.2,867.9 755.9,912.1 761.5,861.5 767.1,891.1 772.7,923.5 778.3,828.1 784.0,826.7 789.6,883.2 795.2,855.0 800.8,859.4 806.4,863.9 812.1,789.5 817.7,911.8 823.3,826.1 828.9,826.9 834.5,770.2 840.2,713.0 845.8,826.7 851.4,804.6 857.0,818.7 862.6,839.2 868.3,798.5 873.9,793.1 879.5,798.5 885.1,693.6 890.7,795.8 896.4,733.9 902.0,827.1 907.6,788.3 913.2,634.1 918.9,672.2 924.5,699.4 930.1,725.2 935.7,802.8 941.3,720.8 947.0,804.4 952.6,722.7 958.2,768.7 963.8,811.3 969.4,758.6 975.1,794.5 980.7,806.6 986.3,832.5 991.9,893.6 997.5,781.7 1003.2,775.9 1008.8,819.3 1014.4,886.9 1020.0,845.8 1025.6,833.5 1031.3,830.1 1036.9,821.0 1042.5,838.3 1048.1,916.8 1053.7,866.2" fill="none" stroke="#1f77b4" stroke-width="4.3"/>
<polyline points="1059.4,751.1 1065.0,855.9 1070.6,819.2 1076.2,788.7 1081.8,737.5 1087.5,783.3 1093.1,756.6 1098.7,732.0 1104.3,694.4 1109.9,722.7 1115.6,719.0 1121.2,717.1 1126.8,727.3 1132.4,732.1 1138.0,786.1 1143.7,648.2 1149.3,747.5 1154.9,686.1 1160.5,736.7 1166.1,642.6 1171.8,692.0 1177.4,742.0 1183.0,719.9 1188.6,642.4 1194.2,742.3 1199.9,638.1 1205.5,676.8 1211.1,644.3 1216.7,601.1 1222.3,670.1 1228.0,675.6 1233.6,716.6 1239.2,743.1 1244.8,703.3 1250.4,699.5 1256.1,756.6 1261.7,725.0 1267.3,722.2 1272.9,677.2 1278.5,623.3 1284.2,635.7 1289.8,682.9 1295.4,654.6 1301.0,757.7 1306.6,769.4 1312.3,781.3 1317.9,757.9 1323.5,805.2 1329.1,805.8 1334.7,968.5 1340.4,869.1 1346.0,799.6" fill="none" stroke="#ff7f0e" stroke-width="4.3"/>
<line x1="124.0" y1="807.4" x2="1403.0" y2="807.4" stroke="#000" stroke-width="4.1" stroke-linecap="butt"/>
<line x1="1058.0" y1="573.0" x2="1058.0" y2="999.9" stroke="#ff0000" stroke-width="8.3" stroke-linecap="butt"/>
</g>
<rect x="124.0" y="1067.0" width="1279.0" height="426.70000000000005" fill="#eeeeee"/>
<g stroke="#fff" stroke-width="2.2" clip-path="url(#c3)">
<line x1="178.0" y1="1067.0" x2="178.0" y2="1493.7"/>
<line x1="471.0" y1="1067.0" x2="471.0" y2="1493.7"/>
<line x1="764.9" y1="1067.0" x2="764.9" y2="1493.7"/>
<line x1="1058.0" y1="1067.0" x2="1058.0" y2="1493.7"/>
<line x1="1351.0" y1="1067.0" x2="1351.0" y2="1493.7"/>
<line x1="124.0" y1="1101.8" x2="1403.0" y2="1101.8"/>
<line x1="124.0" y1="1163.5" x2="1403.0" y2="1163.5"/>
<line x1="124.0" y1="1225.2" x2="1403.0" y2="1225.2"/>
<line x1="124.0" y1="1286.9" x2="1403.0" y2="1286.9"/>
<line x1="124.0" y1="1348.6" x2="1403.0" y2="1348.6"/>
<line x1="124.0" y1="1410.3" x2="1403.0" y2="1410.3"/>
<line x1="124.0" y1="1472.0" x2="1403.0" y2="1472.0"/>
</g>
<g font-size="38.9" text-anchor="end" letter-spacing="-0.3">
<text x="113.8" y="1117.2">12</text>
<text x="113.8" y="1178.9">10</text>
<text x="113.8" y="1240.6">8</text>
<text x="113.8" y="1302.3">6</text>
<text x="113.8" y="1364.0">4</text>
<text x="113.8" y="1425.7">2</text>
<text x="113.8" y="1487.4">0</text>
</g>
<g clip-path="url(#c3)" stroke-linejoin="round" stroke-linecap="round">
<polygon points="1059.4,1466.5 1065.0,1469.6 1070.6,1469.8 1076.2,1467.4 1081.8,1461.0 1087.5,1458.2 1093.1,1453.3 1098.7,1446.4 1104.3,1436.1 1109.9,1428.0 1115.6,1419.7 1121.2,1411.2 1126.8,1403.5 1132.4,1396.2 1138.0,1393.3 1143.7,1379.6 1149.3,1373.9 1154.9,1363.3 1160.5,1356.8 1166.1,1342.7 1171.8,1332.5 1177.4,1326.4 1183.0,1318.5 1188.6,1304.4 1194.2,1298.3 1199.9,1283.8 1205.5,1272.5 1211.1,1258.6 1216.7,1241.1 1222.3,1229.3 1228.0,1217.9 1233.6,1209.8 1239.2,1203.9 1244.8,1194.7 1250.4,1185.3 1256.1,1180.8 1261.7,1173.8 1267.3,1166.6 1272.9,1155.7 1278.5,1140.5 1284.2,1126.2 1289.8,1115.8 1295.4,1103.1 1301.0,1098.7 1306.6,1095.3 1312.3,1092.8 1317.9,1088.4 1323.5,1087.9 1329.1,1087.0 1334.7,1099.3 1340.4,1103.6 1346.0,1102.3 1346.0,1177.6 1340.4,1177.5 1334.7,1171.8 1329.1,1158.2 1323.5,1157.6 1317.9,1157.4 1312.3,1161.1 1306.6,1162.8 1301.0,1165.5 1295.4,1169.2 1289.8,1181.2 1284.2,1190.9 1278.5,1204.4 1272.9,1218.9 1267.3,1229.1 1261.7,1235.7 1256.1,1242.0 1250.4,1245.7 1244.8,1253.7 1239.2,1261.4 1233.6,1265.9 1228.0,1272.5 1222.3,1282.4 1216.7,1292.8 1211.1,1308.8 1205.5,1321.2 1199.9,1331.0 1194.2,1343.9 1188.6,1348.4 1183.0,1360.9 1177.4,1367.2 1171.8,1371.7 1166.1,1380.2 1160.5,1392.8 1154.9,1397.7 1149.3,1406.7 1143.7,1410.8 1138.0,1422.9 1132.4,1423.4 1126.8,1428.3 1121.2,1433.6 1115.6,1439.8 1109.9,1445.7 1104.3,1451.4 1098.7,1459.4 1093.1,1464.7 1087.5,1468.0 1081.8,1469.2 1076.2,1474.1 1070.6,1474.8 1065.0,1473.1 1059.4,1468.4" fill="#fa7c17" fill-opacity="0.5" stroke="#fa7c17" stroke-opacity="0.5" stroke-width="2.2"/>
<polyline points="1059.4,1467.5 1065.0,1471.4 1070.6,1472.3 1076.2,1470.8 1081.8,1465.2 1087.5,1463.2 1093.1,1459.1 1098.7,1453.0 1104.3,1443.9 1109.9,1437.1 1115.6,1429.9 1121.2,1422.6 1126.8,1416.2 1132.4,1410.1 1138.0,1408.4 1143.7,1395.5 1149.3,1390.6 1154.9,1380.8 1160.5,1375.1 1166.1,1361.8 1171.8,1352.5 1177.4,1347.2 1183.0,1340.2 1188.6,1326.8 1194.2,1321.6 1199.9,1307.9 1205.5,1297.3 1211.1,1284.2 1216.7,1267.5 1222.3,1256.4 1228.0,1245.8 1233.6,1238.4 1239.2,1233.2 1244.8,1224.8 1250.4,1216.1 1256.1,1212.0 1261.7,1205.4 1267.3,1198.5 1272.9,1188.0 1278.5,1173.1 1284.2,1159.2 1289.8,1149.2 1295.4,1136.8 1301.0,1132.8 1306.6,1129.7 1312.3,1127.6 1317.9,1123.6 1323.5,1123.4 1329.1,1123.3 1334.7,1136.3 1340.4,1141.3 1346.0,1140.7" fill="none" stroke="#ff7f0e" stroke-width="4.3"/>
<line x1="124.0" y1="1472.0" x2="1403.0" y2="1472.0" stroke="#000" stroke-width="4.1" stroke-linecap="butt"/>
<line x1="1058.0" y1="1067.0" x2="1058.0" y2="1493.7" stroke="#ff0000" stroke-width="8.3" stroke-linecap="butt"/>
</g>
<g font-size="44.44" text-anchor="middle">
<text id="t1" x="765.3" y="62.0">Pre-intervention Bayesian <tspan font-style="italic" dx="2.4">R</tspan><tspan font-size="31.1" dy="-16.2" dx="3">2</tspan><tspan dy="16.2" dx="-1.4">: 0.76 (std = 0.012)</tspan></text>
<text id="t2" x="764.2" y="557.7">Causal Impact</text>
<text id="t3" x="763.5" y="1051.7">Cumulative Causal Impact</text>
</g>
<g font-size="38.9" letter-spacing="-0.35">
<text transform="translate(171.7,1503.2) rotate(90)">2019</text>
<text transform="translate(464.7,1503.2) rotate(90)">2020</text>
<text transform="translate(757.6,1503.2) rotate(90)">2021</text>
<text transform="translate(1050.5,1503.2) rotate(90)">2022</text>
<text transform="translate(1343.5,1503.2) rotate(90)">2023</text>
</g>
</svg>
</body></html>
